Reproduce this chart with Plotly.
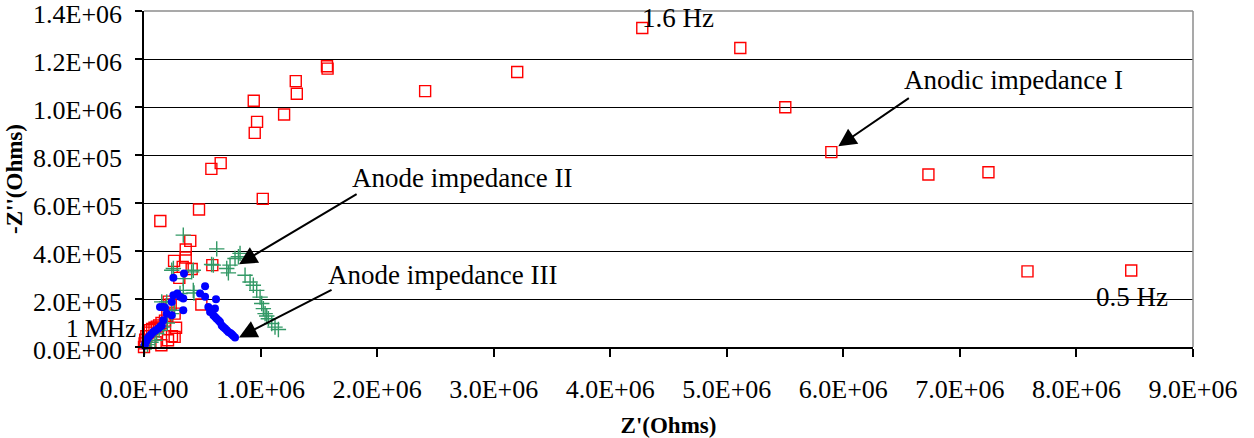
import plotly.graph_objects as go

# ---------------- data (Ohms) ----------------
# Anodic impedance I (red open squares)
anodic_I_x = [0.0, 0.005e6, 0.01e6, 0.02e6, 0.035e6, 0.05e6, 0.07e6, 0.09e6, 0.11e6, 0.13e6, 0.15e6,
              0.18e6, 0.20e6, 0.10e6, 0.149e6, 0.206e6, 0.24e6, 0.263e6, 0.275e6, 0.263e6, 0.229e6,
              0.212e6, 0.492e6, 0.303e6, 0.332e6, 0.409e6, 0.586e6, 0.258e6, 0.358e6, 0.358e6,
              0.397e6, 0.14e6, 0.472e6, 1.019e6, 0.578e6, 0.658e6, 0.95e6, 0.97e6, 1.202e6,
              0.9415e6, 1.311e6, 1.302e6, 1.575e6, 1.57e6, 2.412e6, 3.202e6, 4.275e6, 5.116e6,
              5.502e6, 5.897e6, 6.73e6, 7.245e6, 7.58e6, 8.47e6]
anodic_I_y = [0.0, 0.015e6, 0.03e6, 0.045e6, 0.06e6, 0.07e6, 0.075e6, 0.08e6, 0.085e6, 0.09e6, 0.10e6,
              0.11e6, 0.13e6, 0.02e6, 0.007e6, 0.028e6, 0.045e6, 0.042e6, 0.08e6, 0.139e6, 0.177e6,
              0.189e6, 0.177e6, 0.288e6, 0.334e6, 0.325e6, 0.341e6, 0.359e6, 0.373e6, 0.406e6,
              0.442e6, 0.525e6, 0.573e6, 0.617e6, 0.742e6, 0.766e6, 0.892e6, 0.938e6, 0.969e6,
              1.026e6, 1.055e6, 1.108e6, 1.16e6, 1.17e6, 1.066e6, 1.146e6, 1.329e6, 1.246e6,
              0.999e6, 0.812e6, 0.719e6, 0.728e6, 0.315e6, 0.319e6]

# Anode impedance II (green crosses)
anode_II_x = [0.005e6, 0.03e6, 0.06e6, 0.094e6, 0.109e6, 0.13e6, 0.166e6, 0.20e6, 0.238e6, 0.263e6,
              0.152e6, 0.195e6, 0.309e6, 0.337e6, 0.429e6, 0.423e6, 0.337e6, 0.252e6, 0.238e6,
              0.409e6, 0.423e6, 0.337e6, 0.58e6, 0.595e6, 0.624e6, 0.71e6, 0.724e6, 0.738e6,
              0.781e6, 0.81e6, 0.824e6, 0.867e6, 0.91e6, 0.938e6, 0.967e6, 0.996e6, 1.01e6,
              1.024e6, 1.039e6, 1.053e6, 1.067e6, 1.096e6, 1.124e6, 1.153e6]
anode_II_y = [0.0, 0.01e6, 0.02e6, 0.028e6, 0.056e6, 0.07e6, 0.083e6, 0.10e6, 0.139e6, 0.153e6,
              0.188e6, 0.188e6, 0.223e6, 0.236e6, 0.225e6, 0.236e6, 0.285e6, 0.327e6, 0.32e6,
              0.313e6, 0.32e6, 0.466e6, 0.344e6, 0.341e6, 0.409e6, 0.327e6, 0.309e6, 0.341e6,
              0.369e6, 0.376e6, 0.39e6, 0.299e6, 0.271e6, 0.257e6, 0.236e6, 0.208e6, 0.181e6,
              0.16e6, 0.139e6, 0.129e6, 0.118e6, 0.098e6, 0.083e6, 0.073e6]

# Anode impedance III (blue dots)
anode_III_x = [0.005e6, 0.01e6, 0.02e6, 0.03e6, 0.045e6, 0.06e6, 0.08e6, 0.10e6, 0.123e6, 0.14e6,
               0.152e6, 0.166e6, 0.195e6, 0.238e6, 0.137e6, 0.18e6, 0.166e6, 0.238e6, 0.252e6,
               0.286e6, 0.309e6, 0.337e6, 0.337e6, 0.252e6, 0.343e6, 0.524e6, 0.481e6, 0.524e6,
               0.618e6, 0.552e6, 0.609e6, 0.567e6, 0.595e6, 0.61e6, 0.624e6, 0.64e6, 0.652e6,
               0.667e6, 0.68e6, 0.695e6, 0.71e6, 0.724e6, 0.74e6, 0.753e6, 0.765e6, 0.781e6]
anode_III_y = [0.005e6, 0.015e6, 0.025e6, 0.035e6, 0.045e6, 0.052e6, 0.063e6, 0.07e6, 0.077e6, 0.085e6,
               0.09e6, 0.111e6, 0.139e6, 0.132e6, 0.167e6, 0.164e6, 0.167e6, 0.188e6, 0.216e6,
               0.223e6, 0.209e6, 0.202e6, 0.153e6, 0.289e6, 0.306e6, 0.253e6, 0.223e6, 0.209e6,
               0.199e6, 0.167e6, 0.16e6, 0.146e6, 0.132e6, 0.125e6, 0.118e6, 0.11e6, 0.104e6,
               0.09e6, 0.083e6, 0.077e6, 0.07e6, 0.063e6, 0.058e6, 0.053e6, 0.047e6, 0.04e6]

x_tick_vals = [0, 1e6, 2e6, 3e6, 4e6, 5e6, 6e6, 7e6, 8e6, 9e6]
x_tick_text = ["0.0E+00", "1.0E+06", "2.0E+06", "3.0E+06", "4.0E+06", "5.0E+06",
               "6.0E+06", "7.0E+06", "8.0E+06", "9.0E+06"]
y_tick_vals = [0, 2e5, 4e5, 6e5, 8e5, 1e6, 1.2e6, 1.4e6]
y_tick_text = ["0.0E+00", "2.0E+05", "4.0E+05", "6.0E+05", "8.0E+05", "1.0E+06",
               "1.2E+06", "1.4E+06"]

FONT = "Liberation Serif, Times New Roman, serif"

fig = go.Figure()
fig.add_trace(go.Scatter(x=anodic_I_x, y=anodic_I_y, mode="markers", name="Anodic impedance I",
                         marker=dict(symbol="square-open", size=11, color="#FF0000",
                                     line=dict(width=1.4, color="#FF0000")),
                         cliponaxis=False))
fig.add_trace(go.Scatter(x=anode_II_x, y=anode_II_y, mode="markers", name="Anode impedance II",
                         marker=dict(symbol="cross-thin", size=11, color="#339966",
                                     line=dict(width=1.4, color="#339966")),
                         cliponaxis=False))
fig.add_trace(go.Scatter(x=anode_III_x, y=anode_III_y, mode="markers", name="Anode impedance III",
                         marker=dict(symbol="circle", size=8, color="#0000FF"),
                         cliponaxis=False))

# text labels (data coordinates)
labels = [
    ("Anodic impedance I", 7.46e6, 1.112e6),
    ("Anode impedance II", 2.73e6, 0.703e6),
    ("Anode impedance III", 2.558e6, 0.299e6),
    ("1.6 Hz", 4.584e6, 1.371e6),
    ("0.5 Hz", 8.48e6, 0.207e6),
]
for txt, lx, ly in labels:
    fig.add_annotation(x=lx, y=ly, xref="x", yref="y", text=txt, showarrow=False,
                       font=dict(family=FONT, size=27, color="black"),
                       xanchor="center", yanchor="middle")
# label left of the plot area (paper coordinates)
fig.add_annotation(x=-0.041, y=0.054, xref="paper", yref="paper", text="1 MHz", showarrow=False,
                   font=dict(family=FONT, size=25, color="black"),
                   xanchor="center", yanchor="middle")

# arrows (head, tail)
arrows = [
    (5.957e6, 0.836e6, 6.575e6, 1.041e6),
    (0.815e6, 0.345e6, 1.837e6, 0.641e6),
    (0.815e6, 0.040e6, 1.622e6, 0.241e6),
]
for hx, hy, tx, ty in arrows:
    fig.add_annotation(x=hx, y=hy, ax=tx, ay=ty, xref="x", yref="y", axref="x", ayref="y",
                       text="", showarrow=True, arrowhead=2, arrowsize=1.8, arrowwidth=2,
                       arrowcolor="black")

# plot frame: gray top and right edges
fig.add_shape(type="line", xref="paper", yref="paper", x0=0, x1=1, y0=1, y1=1,
              line=dict(color="#8c8c8c", width=1.5), layer="above")
fig.add_shape(type="line", xref="paper", yref="paper", x0=1, x1=1, y0=0, y1=1,
              line=dict(color="#8c8c8c", width=1.5), layer="above")

fig.update_layout(
    width=1254, height=438,
    margin=dict(l=144, r=61, t=11, b=91, autoexpand=False),
    paper_bgcolor="white", plot_bgcolor="white",
    showlegend=False,
    font=dict(family=FONT, color="black"),
)
fig.update_xaxes(
    range=[0, 9e6], tickvals=x_tick_vals, ticktext=x_tick_text,
    showgrid=False, zeroline=False, showline=True, linecolor="black", linewidth=1.5,
    ticks="outside", ticklen=8, tickcolor="black", tickwidth=1.5,
    tickfont=dict(family=FONT, size=26, color="black"), ticklabelstandoff=10,
    ticklabeloverflow="allow", automargin=False,
    title=dict(text="<b>Z'(Ohms)</b>", font=dict(family=FONT, size=23, color="black"), standoff=17),
)
fig.update_yaxes(
    range=[0, 1.4e6], tickvals=y_tick_vals, ticktext=y_tick_text,
    showgrid=True, gridcolor="black", gridwidth=1, zeroline=False,
    showline=True, linecolor="black", linewidth=1.5,
    ticks="outside", ticklen=7, tickcolor="black", tickwidth=1.5,
    tickfont=dict(family=FONT, size=26, color="black"), ticklabelstandoff=8,
    ticklabelshift=3, ticklabeloverflow="allow", automargin=False,
    title=dict(text="<b>-Z''(Ohms)</b>", font=dict(family=FONT, size=23, color="black"), standoff=4),
)

fig.write_html("out.html")
